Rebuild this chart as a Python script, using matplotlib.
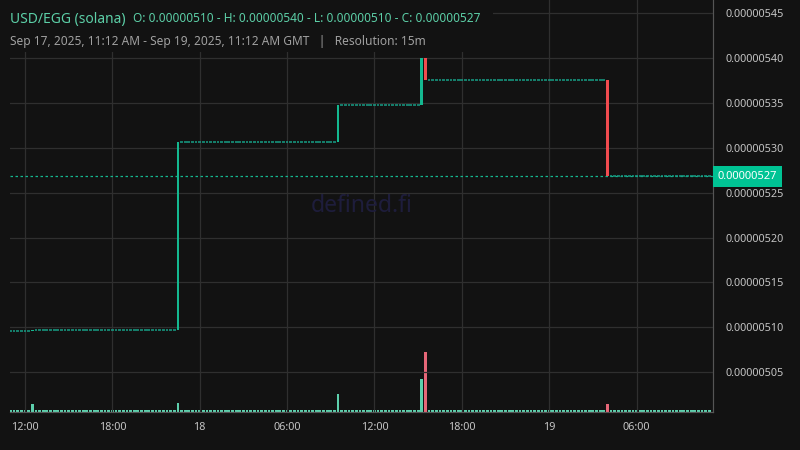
import matplotlib
matplotlib.use('Agg')
import matplotlib.pyplot as plt
from matplotlib.patches import Rectangle
import numpy as np

# hours since Sep 17 2025 00:00 GMT; prices in units of 1e-6
trade_hours = [12.5, 22.5, 33.5, 39.25, 39.5, 52.0]
trade_open = [5.0955, 5.0965, 5.307, 5.348, 5.400, 5.376]
trade_close = [5.0965, 5.307, 5.348, 5.400, 5.376, 5.2686]
trade_volume = [13, 15, 30, 55, 100, 13]
first_price = 5.0955
last_price = 5.2686
flat_volume = 4

price_ticks = [5.05, 5.10, 5.15, 5.20, 5.25, 5.30, 5.35, 5.40, 5.45]
time_ticks = [12, 18, 24, 30, 36, 42, 48, 54]
time_labels = ['12:00', '18:00', '18', '06:00', '12:00', '18:00', '19', '06:00']

BG = '#121212'
GRID = '#2f2f2f'
UP = '#14b890'
DOWN = '#f14b4f'
UP_VOL = '#5dcfac'
DOWN_VOL = '#e56677'
FLAT = '#179e86'
TXT = '#c4c4c4'

plt.rcParams['font.family'] = ['Noto Sans', 'DejaVu Sans']

fig = plt.figure(figsize=(8, 4.5), dpi=100, facecolor=BG)
ax = fig.add_axes([10 / 800, 1 - 412 / 450, 703 / 800, 412 / 450])
vax = ax.twinx()
ax.set_zorder(vax.get_zorder() + 1)
ax.patch.set_visible(False)
vax.set_facecolor(BG)

width = 0.19
slots = np.arange(11.0, 59.001, 0.25)
price = first_price
for t in slots:
    hit = [i for i, h in enumerate(trade_hours) if abs(h - t) < 1e-6]
    if hit:
        i = hit[0]
        o, c = trade_open[i], trade_close[i]
        col = UP if c >= o else DOWN
        ax.bar(t, c - o, bottom=o, width=width, color=col, zorder=3)
        vax.bar(t, trade_volume[i], width=width, color=UP_VOL if c >= o else DOWN_VOL, zorder=3)
        price = c
    else:
        ax.hlines(price, t - width / 2, t + width / 2, color=FLAT, lw=1.1, zorder=3)
        vax.bar(t, flat_volume, width=width, color=UP_VOL, zorder=2)

# last price line and label
ax.axhline(last_price, color=UP, lw=0.9, ls=(0, (2, 2)), zorder=2)
ax.text(1.007, last_price, f'{last_price * 1e-6:.8f}', transform=ax.get_yaxis_transform(),
        ha='left', va='center', color='white', fontsize=8, zorder=5, clip_on=False,
        bbox=dict(boxstyle='square,pad=0.45', fc='#00c394', ec='none'))

ax.set_xlim(10.97, 59.25)
ax.set_ylim(5.0054, 5.4650)
vax.set_ylim(0, 687)
vax.set_yticks([])

ax.yaxis.tick_right()
ax.set_yticks(price_ticks)
ax.set_yticklabels([f'{v * 1e-6:.8f}' for v in price_ticks])
ax.set_xticks(time_ticks)
ax.set_xticklabels(time_labels)
for lab in ax.get_xticklabels():
    if lab.get_text() in ('18', '19'):
        lab.set_fontweight('bold')
ax.tick_params(axis='y', length=0, pad=9, labelsize=7.8, colors=TXT)
ax.tick_params(axis='x', length=0, pad=7, labelsize=7.8, colors=TXT)
ax.grid(True, color=GRID, lw=0.9)
ax.set_axisbelow(True)

for a in (ax, vax):
    for s in ('top', 'left'):
        a.spines[s].set_visible(False)
    a.spines['right'].set_color('#555555')
    a.spines['bottom'].set_color('#555555')

ax.text(0.5, 0.5, 'defined.fi', transform=ax.transAxes, ha='center', va='center',
        fontsize=16.5, color='#1e1d3c', zorder=1)

# header box over the plot
fig.patches.append(Rectangle((0, 1 - 52 / 450), 493 / 800, 52 / 450, transform=fig.transFigure,
                             fc=BG, ec='none', zorder=1))
fig.text(10 / 800, 1 - 19 / 450, 'USD/EGG (solana)', color='#5ccfa7', fontsize=10,
         va='center', zorder=2)
fig.text(133 / 800, 1 - 19 / 450, 'O: 0.00000510 - H: 0.00000540 - L: 0.00000510 - C: 0.00000527',
         color='#5ccfa7', fontsize=8.55, va='center', zorder=2)
fig.text(10 / 800, 1 - 41 / 450,
         'Sep 17, 2025, 11:12 AM - Sep 19, 2025, 11:12 AM GMT   |   Resolution: 15m',
         color='#a0a0a0', fontsize=8.6, va='center', zorder=2)

fig.savefig('out.png', dpi=100, facecolor=BG)
